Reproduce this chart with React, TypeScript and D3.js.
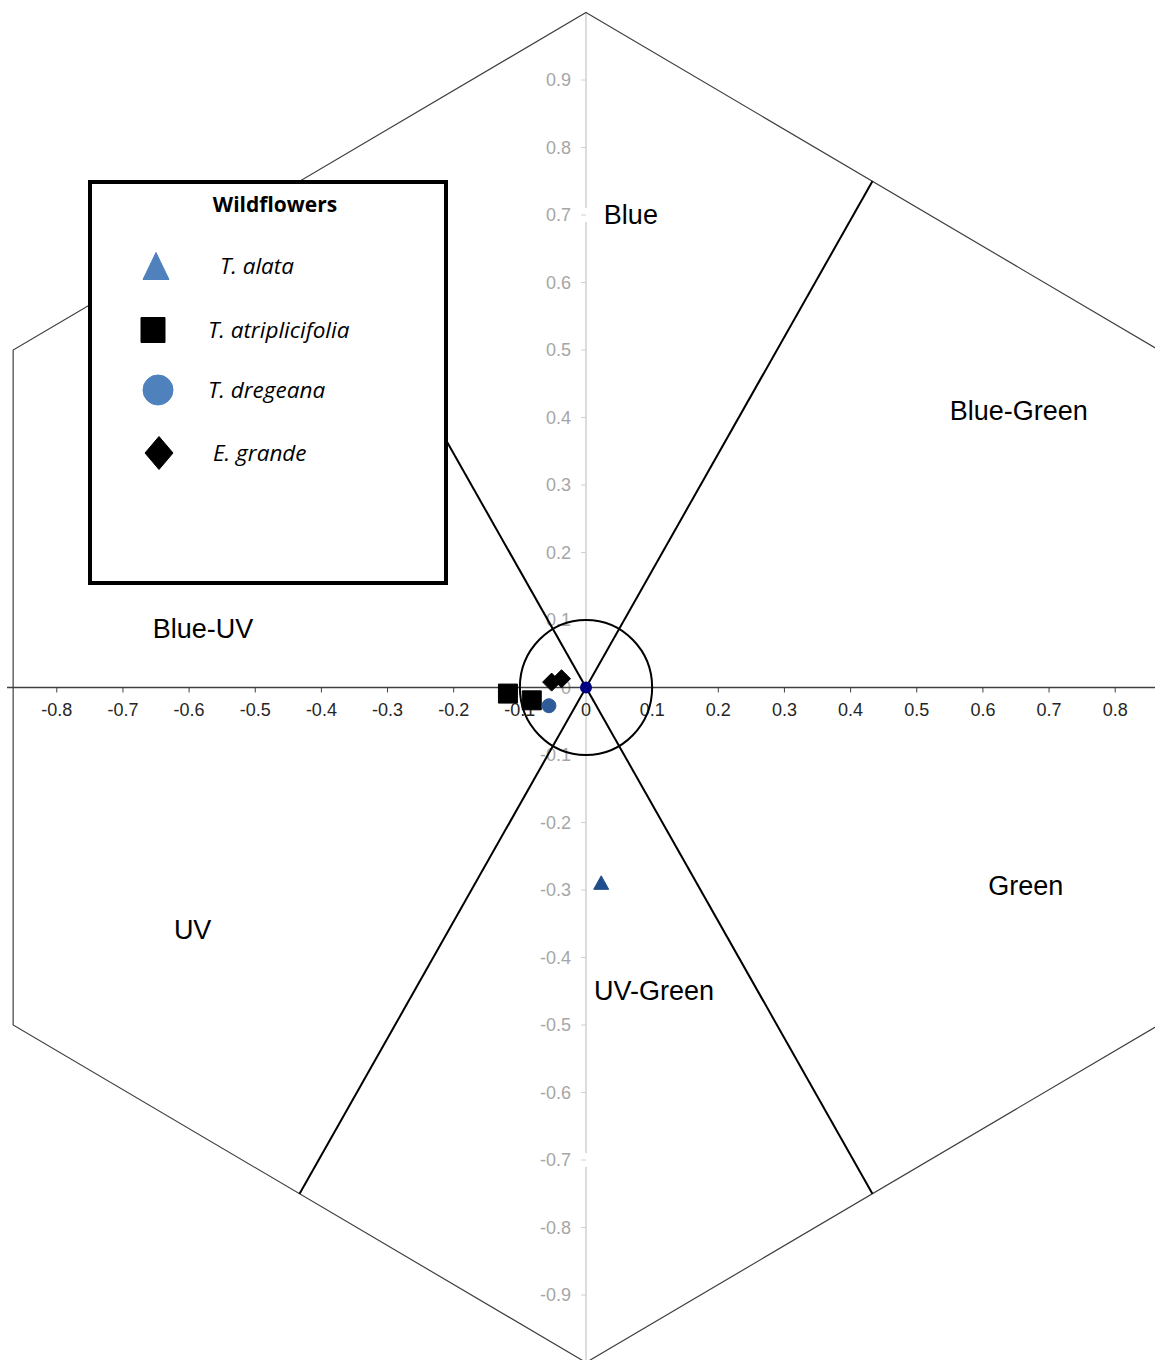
import React from "react";
import * as d3 from "d3";

// Bee colour hexagon: loci of flower colours in the hexagon space
const xTicks = [-0.8, -0.7, -0.6, -0.5, -0.4, -0.3, -0.2, -0.1, 0, 0.1, 0.2, 0.3, 0.4, 0.5, 0.6, 0.7, 0.8];
const yTicks = [-0.9, -0.8, -0.7, -0.6, -0.5, -0.4, -0.3, -0.2, -0.1, 0, 0.1, 0.2, 0.3, 0.4, 0.5, 0.6, 0.7, 0.8, 0.9];

// hexagon corners (unit radius) and the sector boundaries
const hexCorners: [number, number][] = [
  [0, 1], [0.866, 0.5], [0.866, -0.5], [0, -1], [-0.866, -0.5], [-0.866, 0.5],
];
const sectorLines: [[number, number], [number, number]][] = [
  [[-0.433, -0.75], [0.433, 0.75]],
  [[-0.433, 0.75], [0.433, -0.75]],
];
const achromaticRadius = 0.1;

const regionNames = ["Blue", "Blue-Green", "Blue-UV", "UV", "UV-Green", "Green"];
const regionX = [0.027, 0.55, -0.655, -0.623, 0.012, 0.608];
const regionY = [0.686, 0.396, 0.074, -0.373, -0.463, -0.307];

type Shape = "triangle" | "square" | "circle" | "diamond";
const speciesNames = ["T. alata", "T. atriplicifolia", "T. dregeana", "E. grande"];
const speciesShapes: Shape[] = ["triangle", "square", "circle", "diamond"];
const legendColors = ["#4F81BD", "#000000", "#4F81BD", "#000000"];
const pointColors = ["#1F4E8C", "#000000", "#2E5C98", "#000000"];
const speciesX = [[0.023], [-0.118, -0.082], [-0.056], [-0.052, -0.037]];
const speciesY = [[-0.289], [-0.009, -0.019], [-0.027], [0.008, 0.013]];
const pointSizes = [15, 19, 14, 18];

function shapePath(shape: Shape, cx: number, cy: number, w: number, h: number = w): string {
  const hw = w / 2, hh = h / 2;
  switch (shape) {
    case "triangle":
      return `M${cx},${cy - hh}L${cx + hw},${cy + hh}L${cx - hw},${cy + hh}Z`;
    case "square":
      return `M${cx - hw},${cy - hh}h${w}v${h}h${-w}Z`;
    case "diamond":
      return `M${cx},${cy - hh}L${cx + hw},${cy}L${cx},${cy + hh}L${cx - hw},${cy}Z`;
    default:
      return `M${cx - hw},${cy}a${hw},${hh} 0 1,0 ${w},0a${hw},${hh} 0 1,0 ${-w},0Z`;
  }
}

export default function App() {
  const W = 1155, H = 1360;
  const x = d3.scaleLinear().domain([-1, 1]).range([586 - 661.5, 586 + 661.5]);
  const y = d3.scaleLinear().domain([-1, 1]).range([687.5 + 675, 687.5 - 675]);
  const fmt = (v: number) => (Math.abs(v) < 1e-9 ? "0" : v.toFixed(1));
  const line = d3.line<[number, number]>().x((d) => x(d[0])).y((d) => y(d[1]));

  const axisFont = "Arial, 'Liberation Sans', sans-serif";
  const legendFont = "'Open Sans', Lato, sans-serif";

  const legend = { x: 90, y: 182, w: 356, h: 401 };
  const legendRows = [266, 330, 390, 453];
  const legendSymX = [156, 153, 158, 159];
  const legendSym = [[26, 27], [24, 25], [30, 30], [28, 33]];
  const legendTextX = [220, 208, 208, 213];

  return (
    <svg width={W} height={H} style={{ position: "absolute", left: 0, top: 0, background: "#fff" }}>
      <rect width={W} height={H} fill="#fff" />
      {/* vertical axis */}
      <line x1={x(0)} x2={x(0)} y1={y(1)} y2={H} stroke="#d0d0d0" strokeWidth={1.5} />
      {[0.7, -0.7].map((v) => (
        <rect key={v} x={x(0) - 3} y={y(v) - 7} width={6} height={14} fill="#fff" />
      ))}
      {yTicks.map((v) => (
        <g key={v}>
          <line x1={x(0) - 5} x2={x(0)} y1={y(v)} y2={y(v)} stroke="#d0d0d0" strokeWidth={1} />
          <text x={x(0) - 15} y={y(v)} dy="0.35em" textAnchor="end" fontFamily={axisFont} fontSize={18} fill="#a6a6a6">
            {fmt(v)}
          </text>
        </g>
      ))}
      {/* hexagon outline */}
      <path d={line(hexCorners)! + "Z"} fill="none" stroke="#404040" strokeWidth={1.2} />
      {/* sector boundaries */}
      {sectorLines.map((s, i) => (
        <path key={i} d={line(s)!} fill="none" stroke="#000" strokeWidth={2} />
      ))}
      {/* horizontal axis */}
      <line x1={7} x2={W} y1={y(0)} y2={y(0)} stroke="#404040" strokeWidth={1.5} />
      {xTicks.map((v) => (
        <g key={v}>
          <line x1={x(v)} x2={x(v)} y1={y(0)} y2={y(0) + 5} stroke="#404040" strokeWidth={1} />
          <text x={x(v)} y={y(0) + 28} textAnchor="middle" fontFamily={axisFont} fontSize={18} fill="#262626">
            {fmt(v)}
          </text>
        </g>
      ))}
      {/* achromatic circle */}
      <ellipse
        cx={x(0)}
        cy={y(0)}
        rx={x(achromaticRadius) - x(0)}
        ry={y(0) - y(achromaticRadius)}
        fill="none"
        stroke="#000"
        strokeWidth={2}
      />
      {/* region names */}
      {regionNames.map((n, i) => (
        <text key={n} x={x(regionX[i])} y={y(regionY[i])} fontFamily={axisFont} fontSize={27} fill="#000">
          {n}
        </text>
      ))}
      {/* flower colour loci */}
      {speciesNames.map((n, i) =>
        speciesX[i].map((vx, j) => (
          <path
            key={n + j}
            d={shapePath(speciesShapes[i], x(vx), y(speciesY[i][j]), pointSizes[i], speciesShapes[i] === "triangle" ? pointSizes[i] * 0.9 : pointSizes[i])}
            fill={pointColors[i]}
            stroke={pointColors[i]}
            strokeWidth={1}
            strokeLinejoin="round"
          />
        ))
      )}
      {/* background point */}
      <circle cx={x(0)} cy={y(0)} r={6} fill="#000080" />
      {/* legend */}
      <rect x={legend.x} y={legend.y} width={legend.w} height={legend.h} fill="#fff" stroke="#000" strokeWidth={4} />
      <text x={legend.x + 185} y={212} textAnchor="middle" fontFamily={legendFont} fontWeight={700} fontSize={21} fill="#000">
        Wildflowers
      </text>
      {speciesNames.map((n, i) => (
        <g key={n}>
          <path
            d={shapePath(speciesShapes[i], legendSymX[i], legendRows[i], legendSym[i][0], legendSym[i][1])}
            fill={legendColors[i]}
            stroke={legendColors[i]}
            strokeWidth={1}
            strokeLinejoin="round"
          />
          <text x={legendTextX[i]} y={legendRows[i]} dy="0.35em" fontFamily={legendFont} fontStyle="italic" fontSize={22.5} fill="#000">
            {n}
          </text>
        </g>
      ))}
    </svg>
  );
}
